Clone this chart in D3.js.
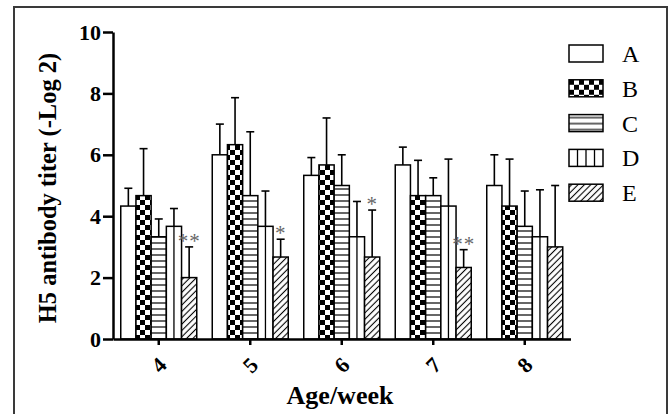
<!DOCTYPE html>
<html>
<head>
<meta charset="utf-8">
<script src="https://cdn.jsdelivr.net/npm/d3@7"></script>
<style>
  body { margin: 0; background: #fff; }
  svg { display: block; font-family: "Liberation Serif", "Times New Roman", serif; }
</style>
</head>
<body>
<div class="container"></div>
<script>
// data (means and SD, log2 titers)
var weeks = [4, 5, 6, 7, 8];
var groups = ["A", "B", "C", "D", "E"];
var meanA = [4.33, 6.0, 5.33, 5.67, 5.0];
var meanB = [4.67, 6.33, 5.67, 4.67, 4.33];
var meanC = [3.33, 4.67, 5.0, 4.67, 3.67];
var meanD = [3.67, 3.67, 3.33, 4.33, 3.33];
var meanE = [2.0, 2.67, 2.67, 2.33, 3.0];
var sdA = [0.58, 1.0, 0.58, 0.58, 1.0];
var sdB = [1.53, 1.53, 1.53, 1.15, 1.53];
var sdC = [0.58, 2.08, 1.0, 0.58, 1.15];
var sdD = [0.58, 1.15, 1.15, 1.53, 1.53];
var sdE = [1.0, 0.58, 1.53, 0.58, 2.0];
var starsE = ["**", "*", "*", "**", ""];
var yTicks = [0, 2, 4, 6, 8, 10];

var means = [meanA, meanB, meanC, meanD, meanE];
var sds = [sdA, sdB, sdC, sdD, sdE];

var w = 669, h = 414;

var svg = d3.select(".container")
    .append("svg")
    .attr("width", w)
    .attr("height", h);

var defs = svg.append("defs");

// checkerboard
var pB = defs.append("pattern").attr("id", "patB")
    .attr("patternUnits", "userSpaceOnUse").attr("width", 10).attr("height", 10);
pB.append("rect").attr("width", 10).attr("height", 10).attr("fill", "#fff");
pB.append("rect").attr("width", 5).attr("height", 5).attr("fill", "#000");
pB.append("rect").attr("x", 5).attr("y", 5).attr("width", 5).attr("height", 5).attr("fill", "#000");

// horizontal lines
var pC = defs.append("pattern").attr("id", "patC")
    .attr("patternUnits", "userSpaceOnUse").attr("width", 10).attr("height", 6);
pC.append("rect").attr("width", 10).attr("height", 6).attr("fill", "#fff");
pC.append("line").attr("x1", 0).attr("x2", 10).attr("y1", 3).attr("y2", 3)
    .attr("stroke", "#000").attr("stroke-width", 1.2);

// diagonal hatch
var pE = defs.append("pattern").attr("id", "patE")
    .attr("patternUnits", "userSpaceOnUse").attr("width", 4.5).attr("height", 4.5)
    .attr("patternTransform", "rotate(45)");
pE.append("rect").attr("width", 4.5).attr("height", 4.5).attr("fill", "#fff");
pE.append("line").attr("x1", 2.25).attr("x2", 2.25).attr("y1", 0).attr("y2", 4.5)
    .attr("stroke", "#000").attr("stroke-width", 1.1);

var fills = ["#fff", "url(#patB)", "url(#patC)", "#fff", "url(#patE)"];

// frame around the figure
svg.append("path")
    .attr("d", "M14," + (h + 5) + "V7H667V" + (h + 5))
    .attr("fill", "none")
    .attr("stroke", "#3a3a3a")
    .attr("stroke-width", 2);

var y = d3.scaleLinear()
    .domain([0, 10])
    .range([339, 32]);

var x0 = d3.scaleBand()
    .domain(weeks)
    .range([113, 570.5])
    .padding(0);

var x1 = d3.scaleBand()
    .domain(groups)
    .range([0, 76])
    .padding(0);

var off = (x0.bandwidth() - 76) / 2;

// flatten
var bars = [];
for (var g = 0; g < groups.length; g++) {
    for (var i = 0; i < weeks.length; i++) {
        bars.push({ week: weeks[i], group: groups[g], gi: g, v: means[g][i], sd: sds[g][i],
                    star: g === 4 ? starsE[i] : "" });
    }
}

function cx(d) { return x0(d.week) + off + x1(d.group) + x1.bandwidth() / 2; }

var barG = svg.append("g");

barG.selectAll("line.err")
    .data(bars)
    .enter()
    .append("line")
    .attr("class", "err")
    .attr("x1", cx)
    .attr("x2", cx)
    .attr("y1", function(d) { return y(d.v); })
    .attr("y2", function(d) { return y(d.v + d.sd); })
    .attr("stroke", "#000")
    .attr("stroke-width", 1.6);

barG.selectAll("line.cap")
    .data(bars)
    .enter()
    .append("line")
    .attr("class", "cap")
    .attr("x1", function(d) { return cx(d) - 4; })
    .attr("x2", function(d) { return cx(d) + 4; })
    .attr("y1", function(d) { return y(d.v + d.sd); })
    .attr("y2", function(d) { return y(d.v + d.sd); })
    .attr("stroke", "#000")
    .attr("stroke-width", 1.6);

barG.selectAll("rect.bar")
    .data(bars)
    .enter()
    .append("rect")
    .attr("class", "bar")
    .attr("x", function(d) { return x0(d.week) + off + x1(d.group); })
    .attr("y", function(d) { return y(d.v); })
    .attr("width", x1.bandwidth())
    .attr("height", function(d) { return y(0) - y(d.v); })
    .attr("fill", function(d) { return fills[d.gi]; })
    .attr("stroke", "#000")
    .attr("stroke-width", 1.5);

// vertical divider for D bars
barG.selectAll("line.dline")
    .data(bars.filter(function(d) { return d.group === "D"; }))
    .enter()
    .append("line")
    .attr("class", "dline")
    .attr("x1", cx)
    .attr("x2", cx)
    .attr("y1", function(d) { return y(d.v); })
    .attr("y2", y(0))
    .attr("stroke", "#000")
    .attr("stroke-width", 1.3);

barG.selectAll("text.star")
    .data(bars.filter(function(d) { return d.star !== ""; }))
    .enter()
    .append("text")
    .attr("class", "star")
    .attr("x", cx)
    .attr("y", function(d) { return y(d.v + d.sd) + 1; })
    .attr("text-anchor", "middle")
    .attr("font-size", "21px")
    .attr("letter-spacing", "1px")
    .attr("fill", "#666")
    .text(function(d) { return d.star; });

// axes
var yAxis = svg.append("g")
    .attr("transform", "translate(113,0)")
    .call(d3.axisLeft(y).tickValues(yTicks).tickSize(10).tickSizeOuter(0).tickFormat(d3.format("d")));
yAxis.selectAll("path, line").attr("stroke", "#000").attr("stroke-width", 2.5);
yAxis.selectAll("text")
    .attr("font-family", "Liberation Serif, Times New Roman, serif")
    .attr("font-size", "22px")
    .attr("font-weight", "bold")
    .attr("fill", "#000")
    .attr("x", -12);

var xAxis = svg.append("g")
    .attr("transform", "translate(0,339)")
    .call(d3.axisBottom(x0).tickSize(6).tickSizeOuter(0));
xAxis.selectAll("path, line").attr("stroke", "#000").attr("stroke-width", 2.5);
xAxis.selectAll("text")
    .attr("font-family", "Liberation Serif, Times New Roman, serif")
    .attr("font-size", "22px")
    .attr("font-weight", "bold")
    .attr("fill", "#000")
    .attr("y", 0)
    .attr("dy", "0.35em")
    .attr("text-anchor", "middle")
    .attr("transform", "translate(0,26) rotate(-45)");

svg.append("text")
    .attr("transform", "translate(47,188) rotate(-90)")
    .attr("text-anchor", "middle")
    .attr("dy", "0.35em")
    .attr("font-size", "24.5px")
    .attr("font-weight", "bold")
    .text("H5 antibody titer (-Log 2)");

svg.append("text")
    .attr("x", 340)
    .attr("y", 404)
    .attr("text-anchor", "middle")
    .attr("font-size", "26px")
    .attr("font-weight", "bold")
    .text("Age/week");

// legend
var legFills = ["#fff", "url(#patB)", "url(#patC)", "#fff", "url(#patE)"];
var leg = svg.append("g").selectAll("g")
    .data(groups)
    .enter()
    .append("g")
    .attr("transform", function(d, i) { return "translate(569," + (45 + i * 34.8) + ")"; });

leg.append("rect")
    .attr("width", 34)
    .attr("height", 17)
    .attr("fill", function(d, i) { return legFills[i]; })
    .attr("stroke", "#000")
    .attr("stroke-width", 1.5);

leg.filter(function(d) { return d === "D"; })
    .selectAll("line")
    .data([0.25, 0.5, 0.75])
    .enter()
    .append("line")
    .attr("x1", function(f) { return 34 * f; })
    .attr("x2", function(f) { return 34 * f; })
    .attr("y1", 0)
    .attr("y2", 17)
    .attr("stroke", "#000")
    .attr("stroke-width", 1.3);

leg.append("text")
    .attr("x", 53)
    .attr("y", 8.5)
    .attr("dy", "0.35em")
    .attr("font-size", "24px")
    .text(function(d) { return d; });
</script>
</body>
</html>
